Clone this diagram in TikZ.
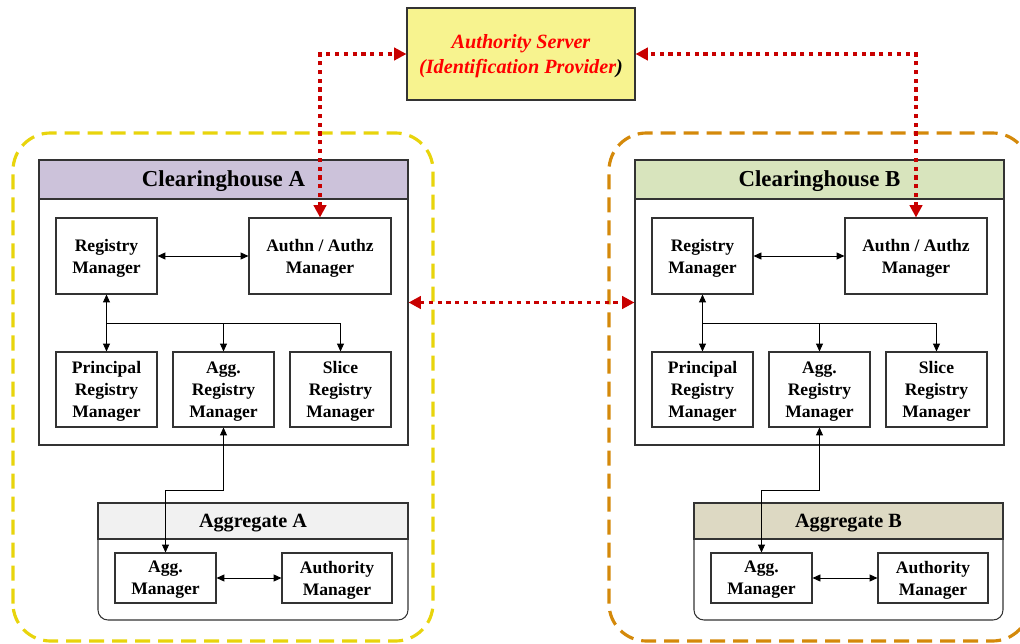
\documentclass[tikz,border=0pt]{standalone}
\usepackage{fontspec}
\setmainfont{Liberation Serif}
\usetikzlibrary{arrows.meta}

\definecolor{servfill}{RGB}{247,243,143}
\definecolor{linkred}{RGB}{200,0,0}
\definecolor{contyellow}{RGB}{232,212,12}
\definecolor{contorange}{RGB}{212,137,10}
\definecolor{headA}{RGB}{204,194,218}
\definecolor{headB}{RGB}{216,228,189}
\definecolor{aggheadA}{RGB}{241,241,241}
\definecolor{aggheadB}{RGB}{221,217,195}

\begin{document}
\begin{tikzpicture}[
  frame/.style={draw=black!80, line width=0.6pt, inner sep=0pt},
  box/.style={frame, fill=white, align=center, text depth=0pt, minimum width=2.02cm, minimum height=1.52cm, font=\fontsize{10}{12.5}\selectfont\bfseries},
  chtitle/.style={frame, anchor=north, minimum width=7.38cm, minimum height=0.78cm, text height=0.81em, text depth=0pt, font=\fontsize{13}{15}\selectfont\bfseries},
  aggtitle/.style={frame, anchor=north, minimum width=6.2cm, minimum height=0.72cm, text height=0.76em, text depth=0pt, font=\fontsize{11.5}{13}\selectfont\bfseries},
  cont/.style={line width=1.8pt, dash pattern=on 0.3cm off 0.16cm, rounded corners=0.75cm},
  link/.style={line width=0.5pt, {Triangle[length=4.5pt,width=4pt]}-{Triangle[length=4.5pt,width=4pt]}},
  down/.style={line width=0.5pt, -{Triangle[length=4.5pt,width=4pt]}},
  redlink/.style={linkred, line width=2.2pt, dash pattern=on 2.4pt off 2.6pt, {Triangle[length=7pt,width=7pt]}-{Triangle[length=7pt,width=7pt]}}
]
\useasboundingbox (0,0) rectangle (20.4,12.86);

\draw[cont, contyellow] (0.26,0.04) rectangle (8.66,10.2);
\draw[cont, contorange] (12.18,0.04) rectangle (20.6,10.2);

\node[frame, fill=servfill, minimum width=4.56cm, minimum height=1.84cm, align=center, text depth=0pt, text=red, font=\fontsize{11.5}{13.8}\selectfont\bfseries\itshape] (auth) at (10.42,11.78) {Authority Server\\(Identification Provider{\color{black})}};

% Clearinghouse A
\node[frame, minimum width=7.38cm, minimum height=5.7cm] (chA) at (4.47,6.81) {};
\node[chtitle, fill=headA] (chAhead) at (chA.north) {Clearinghouse A};
\node[box] (regA) at (2.13,7.74) {Registry\\Manager};
\node[box, minimum width=2.84cm] (authnA) at (6.4,7.74) {Authn / Authz\\Manager};
\node[box, minimum height=1.5cm] (prinA) at (2.13,5.07) {Principal\\Registry\\Manager};
\node[box, minimum height=1.5cm] (aggregA) at (4.47,5.07) {Agg.\\Registry\\Manager};
\node[box, minimum height=1.5cm] (sliceA) at (6.81,5.07) {Slice\\Registry\\Manager};
\coordinate (busA) at (2.13,6.4);
\draw[link] (regA) -- (authnA);
\draw[link] (regA) -- (prinA);
\draw[down] (busA) -| (aggregA);
\draw[down] (busA) -| (sliceA);

% Aggregate A
\node[frame, rounded corners=0.2cm, minimum width=6.2cm, minimum height=2.34cm] (aggA) at (5.06,1.63) {};
\node[aggtitle, fill=aggheadA] (aggAhead) at (aggA.north) {Aggregate A};
\node[box, minimum height=1cm] (aggmgrA) at (3.31,1.3) {Agg.\\Manager};
\node[box, minimum width=2.2cm, minimum height=1cm] (authmgrA) at (6.74,1.3) {Authority\\Manager};
\coordinate (bendA) at (4.47,3.06);
\draw[link] (aggregA) -- (bendA) -| (aggmgrA);
\draw[link] (aggmgrA) -- (authmgrA);

% Clearinghouse B
\node[frame, minimum width=7.38cm, minimum height=5.7cm] (chB) at (16.39,6.81) {};
\node[chtitle, fill=headB] (chBhead) at (chB.north) {Clearinghouse B};
\node[box] (regB) at (14.05,7.74) {Registry\\Manager};
\node[box, minimum width=2.84cm] (authnB) at (18.32,7.74) {Authn / Authz\\Manager};
\node[box, minimum height=1.5cm] (prinB) at (14.05,5.07) {Principal\\Registry\\Manager};
\node[box, minimum height=1.5cm] (aggregB) at (16.39,5.07) {Agg.\\Registry\\Manager};
\node[box, minimum height=1.5cm] (sliceB) at (18.73,5.07) {Slice\\Registry\\Manager};
\coordinate (busB) at (14.05,6.4);
\draw[link] (regB) -- (authnB);
\draw[link] (regB) -- (prinB);
\draw[down] (busB) -| (aggregB);
\draw[down] (busB) -| (sliceB);

% Aggregate B
\node[frame, rounded corners=0.2cm, minimum width=6.18cm, minimum height=2.34cm] (aggB) at (16.97,1.63) {};
\node[aggtitle, minimum width=6.18cm, fill=aggheadB] (aggBhead) at (aggB.north) {Aggregate B};
\node[box, minimum height=1cm] (aggmgrB) at (15.23,1.3) {Agg.\\Manager};
\node[box, minimum width=2.2cm, minimum height=1cm] (authmgrB) at (18.66,1.3) {Authority\\Manager};
\coordinate (bendB) at (16.39,3.06);
\draw[link] (aggregB) -- (bendB) -| (aggmgrB);
\draw[link] (aggmgrB) -- (authmgrB);

% red links
\draw[redlink] (authnA.north) |- (auth.west);
\draw[redlink] (authnB.north) |- (auth.east);
\draw[redlink] (chA.east) -- (chB.west);

\end{tikzpicture}
\end{document}
